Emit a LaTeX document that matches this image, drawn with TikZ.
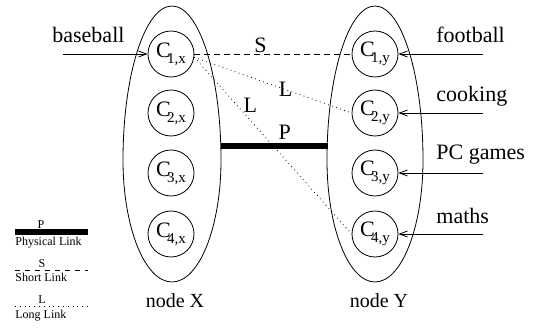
\documentclass[tikz,border=0pt]{standalone}
\usepackage{fontspec}
\setmainfont{Liberation Serif}
\usetikzlibrary{arrows.meta}
\newcommand\csub[2]{C\kern-3.5pt\raisebox{-6pt}{\fontsize{15}{15}\selectfont #1,#2}}
\begin{document}
\begin{tikzpicture}[x=1pt,y=-1pt,line width=0.8pt,
  circ/.style={circle,draw,minimum size=46pt,inner sep=0pt,font=\fontsize{22}{22}\selectfont},
  lbl/.style={anchor=base west,font=\fontsize{22}{22}\selectfont,inner sep=0pt},
  nodelbl/.style={anchor=base,font=\fontsize{20}{20}\selectfont,inner sep=0pt},
  linklbl/.style={font=\fontsize{22}{22}\selectfont,inner sep=0pt},
  leglbl/.style={anchor=base west,font=\fontsize{12}{12}\selectfont,inner sep=0pt},
  legsym/.style={anchor=base,font=\fontsize{12}{12}\selectfont,inner sep=0pt},
  inarrow/.style={-{Straight Barb[length=8pt,width=6pt]}},
  shortlink/.style={dash pattern=on 6pt off 4pt},
  longlink/.style={dash pattern=on 0.8pt off 3.5pt},
  physlink/.style={line width=6pt}]
\useasboundingbox (0,0) rectangle (542,329);
% group ellipses
\draw (123,160) arc[start angle=180,end angle=360,x radius=49,y radius=154]
      arc[start angle=0,end angle=180,x radius=49,y radius=122];
\draw (327,160) arc[start angle=180,end angle=360,x radius=48,y radius=154]
      arc[start angle=0,end angle=180,x radius=48,y radius=122];
\coordinate (xr) at (220.5,146);
\coordinate (yl) at (327.5,146);
% circles
\foreach \i/\y in {1/54,2/113,3/173,4/234}{
  \node[circ] (cx\i) at (171,\y) {\csub{\i}{x}};
  \node[circ] (cy\i) at (375,\y) {\csub{\i}{y}};
}
% external inputs
\coordinate (bs) at (63,54);
\coordinate (f1) at (483,54);
\coordinate (f2) at (483,113);
\coordinate (f3) at (483,173);
\coordinate (f4) at (483,234);
\draw[inarrow] (bs) -- (cx1);
\draw[inarrow] (f1) -- (cy1);
\draw[inarrow] (f2) -- (cy2);
\draw[inarrow] (f3) -- (cy3);
\draw[inarrow] (f4) -- (cy4);
\node[lbl] (tb) at (52,43) {baseball};
\node[lbl] (tf) at (436,43) {football};
\node[lbl] (tc) at (436,102) {cooking};
\node[lbl] (tp) at (436,160) {PC games};
\node[lbl] (tm) at (436,223) {maths};
% links
\draw[shortlink] (cx1) -- node[linklbl,pos=0.42,anchor=south,yshift=1pt] (ls) {S} (cy1);
\draw[longlink] (cx1.-8) -- node[linklbl,pos=0.58] (ll1) {L} (cy2.west);
\draw[longlink] (cx1.-8) -- node[linklbl,pos=0.3,xshift=9pt,yshift=5pt] (ll2) {L} (cy4.west);
\draw[physlink] (xr) -- node[linklbl,pos=0.6,anchor=south,yshift=3pt] (lp) {P} (yl);
% node names
\node[nodelbl] (nx) at (175,307) {node X};
\node[nodelbl] (ny) at (379,307) {node Y};
% legend
\coordinate (a1) at (15,232);
\coordinate (a2) at (88,232);
\draw[physlink] (a1) -- (a2);
\node[legsym] (sp) at (41,229) {P};
\node[leglbl] (tpl) at (15,246) {Physical Link};
\coordinate (b1) at (15,270);
\coordinate (b2) at (88,270);
\draw[dash pattern=on 5pt off 5pt,line width=0.6pt] (b1) -- (b2);
\node[legsym] (ss) at (42,268) {S};
\node[leglbl] (tsl) at (15,282) {Short Link};
\coordinate (c1) at (15,306);
\coordinate (c2) at (88,306);
\draw[dash pattern=on 0.8pt off 4pt,line width=0.6pt] (c1) -- (c2);
\node[legsym] (sl) at (42,304) {L};
\node[leglbl] (tll) at (15,318) {Long Link};
\end{tikzpicture}
\end{document}
